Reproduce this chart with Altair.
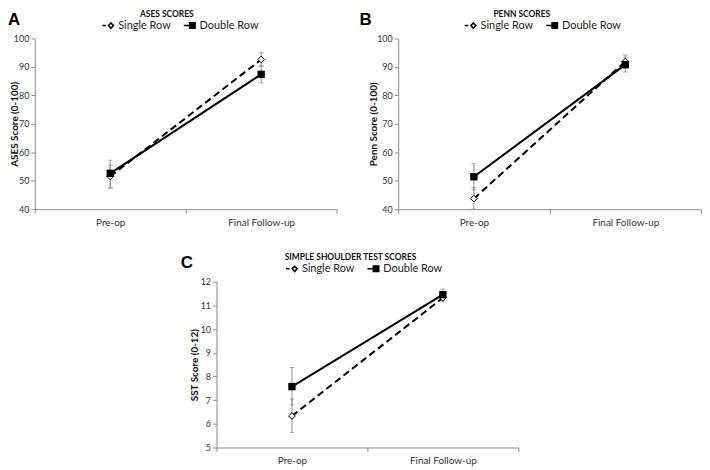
import altair as alt
import pandas as pd

times = ["Pre-op", "Final Follow-up"]
series = ["Single Row", "Double Row"]

# ASES
ases_single = [51.5, 92.6]
ases_single_lo = [47.5, 90.2]
ases_single_hi = [55.5, 95.0]
ases_double = [52.6, 87.4]
ases_double_lo = [47.4, 84.4]
ases_double_hi = [57.2, 90.4]

# Penn
penn_single = [43.7, 91.9]
penn_single_lo = [40.0, 89.6]
penn_single_hi = [47.6, 94.2]
penn_double = [51.4, 90.8]
penn_double_lo = [46.8, 88.2]
penn_double_hi = [56.0, 93.4]

# SST
sst_single = [6.33, 11.32]
sst_single_lo = [5.63, 11.15]
sst_single_hi = [7.05, 11.50]
sst_double = [7.57, 11.45]
sst_double_lo = [6.80, 11.22]
sst_double_hi = [8.38, 11.69]

FONT = "Lato"
SYM_SINGLE = "M-1,0L-0.4,0M0.05,0L0.45,-0.45L0.85,0L0.45,0.45Z"
SYM_DOUBLE = "M-1,0L0.2,0M0,-0.45L0.9,-0.45L0.9,0.45L0,0.45Z"


def panel(letter, title, ytitle, ydomain, yticks, vals, width, height,
          title_dx, legend_x, ytitle_x, letter_x):
    s, s_lo, s_hi, d, d_lo, d_hi = vals
    rows = []
    for i, t in enumerate(times):
        rows.append(dict(time=t, series=series[0], mean=s[i], lo=s_lo[i], hi=s_hi[i]))
        rows.append(dict(time=t, series=series[1], mean=d[i], lo=d_lo[i], hi=d_hi[i]))
    df = pd.DataFrame(rows)

    x = alt.X("time:N", sort=times,
              scale=alt.Scale(type="band", paddingInner=0, paddingOuter=0, domain=times),
              axis=alt.Axis(title=None, tickBand="extent", labelAngle=0,
                            labelFontSize=10, labelPadding=4, tickSize=4))
    yscale = alt.Scale(domain=ydomain, nice=False, zero=False)
    yaxis = alt.Axis(values=yticks, title=ytitle, grid=False, titleX=ytitle_x,
                     labelFontSize=9, labelPadding=2, tickSize=4,
                     titleFontSize=10, titleFontWeight="bold", titleColor="#111")

    base = alt.Chart(df)
    err = base.mark_rule(color="#8c8c8c", strokeWidth=1).encode(
        x=x, y=alt.Y("lo:Q", scale=yscale, axis=yaxis), y2="hi:Q")
    cap_lo = base.mark_tick(color="#8c8c8c", size=5, thickness=1, orient="horizontal").encode(
        x=x, y=alt.Y("lo:Q", scale=yscale, axis=yaxis))
    cap_hi = base.mark_tick(color="#8c8c8c", size=5, thickness=1, orient="horizontal").encode(
        x=x, y=alt.Y("hi:Q", scale=yscale, axis=yaxis))
    line_s = base.transform_filter(alt.datum.series == series[0]).mark_line(
        color="black", strokeWidth=2, strokeDash=[7, 4]).encode(
        x=x, y=alt.Y("mean:Q", scale=yscale, axis=yaxis))
    line_d = base.transform_filter(alt.datum.series == series[1]).mark_line(
        color="black", strokeWidth=2).encode(
        x=x, y=alt.Y("mean:Q", scale=yscale, axis=yaxis))
    pts_s = base.transform_filter(alt.datum.series == series[0]).mark_point(
        shape="diamond", filled=True, fill="white", stroke="black", strokeWidth=1,
        size=45, opacity=1).encode(x=x, y=alt.Y("mean:Q", scale=yscale, axis=yaxis))
    pts_d = base.transform_filter(alt.datum.series == series[1]).mark_point(
        shape="square", filled=True, color="black", size=55, opacity=1).encode(
        x=x, y=alt.Y("mean:Q", scale=yscale, axis=yaxis))

    leg = alt.Legend(title=None, orient="none", legendX=legend_x, legendY=-20,
                     direction="horizontal", symbolSize=144, symbolStrokeWidth=1.6,
                     symbolStrokeColor="black", symbolOpacity=1,
                     labelFont=FONT, labelFontSize=11,
                     labelColor="#222", columnPadding=9, labelOffset=3)
    legend_layer = base.transform_filter("false").mark_point(
        filled=True, strokeWidth=1.6, size=144, opacity=1).encode(
        x=x, y=alt.Y("mean:Q", scale=yscale, axis=yaxis),
        shape=alt.Shape("series:N", scale=alt.Scale(domain=series, range=[SYM_SINGLE, SYM_DOUBLE]),
                        legend=leg),
        fill=alt.Fill("series:N", scale=alt.Scale(domain=series, range=["white", "black"]),
                      legend=leg),
        stroke=alt.Stroke("series:N", scale=alt.Scale(domain=series, range=["black", "black"]),
                          legend=leg))

    lab = alt.Chart(pd.DataFrame({"t": [letter]})).mark_text(
        font="Liberation Sans", fontSize=17, fontWeight="bold", align="left",
        baseline="top", color="black").encode(
        text="t:N", x=alt.value(letter_x), y=alt.value(-27))
    ttl = alt.Chart(pd.DataFrame({"t": [title]})).mark_text(
        font=FONT, fontSize=8.5, fontWeight="bold", align="center",
        baseline="middle", color="#111").encode(
        text="t:N", x=alt.value(width / 2 + title_dx), y=alt.value(-25))

    return alt.layer(err, cap_lo, cap_hi, line_s, line_d, pts_s, pts_d, legend_layer,
                     lab, ttl).properties(width=width, height=height)


A = panel("A", "ASES SCORES", "ASES Score (0-100)", [40, 100], [40, 50, 60, 70, 80, 90, 100],
          (ases_single, ases_single_lo, ases_single_hi, ases_double, ases_double_lo, ases_double_hi),
          304, 172, -19, 67, -15.5, -27)
B = panel("B", "PENN SCORES", "Penn Score (0-100)", [40, 100], [40, 50, 60, 70, 80, 90, 100],
          (penn_single, penn_single_lo, penn_single_hi, penn_double, penn_double_lo, penn_double_hi),
          305, 172, -28, 66, -20, -39)
C = panel("C", "SIMPLE SHOULDER TEST SCORES", "SST Score (0-12)", [5, 12], [5, 6, 7, 8, 9, 10, 11, 12],
          (sst_single, sst_single_lo, sst_single_hi, sst_double, sst_double_lo, sst_double_hi),
          304, 167, -17, 69, -17, -36)

spacer = alt.Chart(pd.DataFrame({"a": [0]})).mark_point(opacity=0).encode(
    x=alt.value(0), y=alt.value(0)).properties(width=173, height=167)

IND = dict(shape="independent", fill="independent", stroke="independent")
row1 = alt.hconcat(A, B, spacing=62, bounds="flush").resolve_scale(**IND).resolve_legend(**IND)
row2 = alt.hconcat(spacer, C, spacing=10, bounds="flush").resolve_scale(**IND).resolve_legend(**IND)
chart = alt.vconcat(row1, row2, spacing=245, bounds="flush").resolve_scale(**IND).resolve_legend(
    **IND).properties(
    padding=0
).configure_view(stroke=None).configure_axis(
    labelFont=FONT, titleFont=FONT, domainColor="#8a8a8a", tickColor="#8a8a8a",
    labelColor="#333"
).configure_legend(labelFont=FONT)

chart.save("out.html", embed_options={"renderer": "svg", "actions": False})
